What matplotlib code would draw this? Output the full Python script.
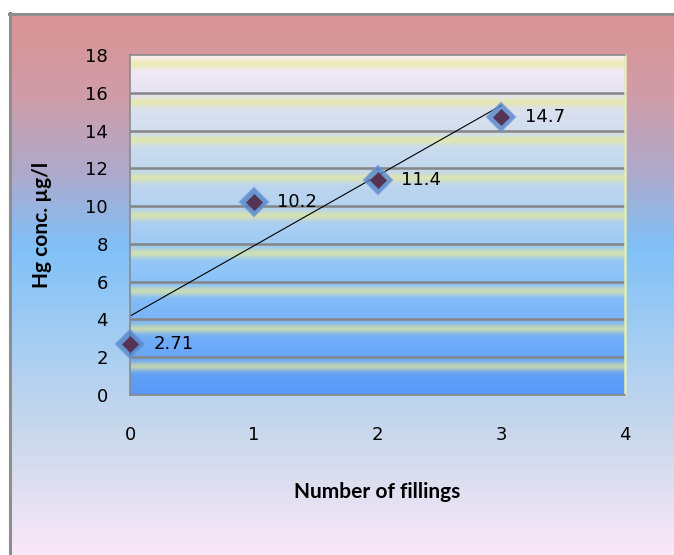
import numpy as np
import matplotlib
matplotlib.use("Agg")
import matplotlib.pyplot as plt
from matplotlib.lines import Line2D

# number of amalgam fillings vs. mercury concentration
fillings = [0, 1, 2, 3]
hg_conc = [2.71, 10.2, 11.4, 14.7]
point_labels = ["2.71", "10.2", "11.4", "14.7"]
x_ticks = [0, 1, 2, 3, 4]
y_ticks = [0, 2, 4, 6, 8, 10, 12, 14, 16, 18]

W, H = 674, 555
fig = plt.figure(figsize=(W / 100, H / 100), dpi=100)


def vgrad(stops, n=400):
    # stops: list of (pos 0=top..1=bottom, (r, g, b))
    pos = np.array([s[0] for s in stops])
    cols = np.array([s[1] for s in stops], dtype=float) / 255
    t = np.linspace(0, 1, n)
    img = np.stack([np.interp(t, pos, cols[:, c]) for c in range(3)], axis=1)
    return img[:, None, :]


# chart area background
bg = fig.add_axes([10 / W, 0, (W - 10) / W, (H - 13) / H], zorder=0)
bg.imshow(vgrad([(0.0, (218, 148, 148)), (0.15, (208, 156, 168)),
                 (0.3, (172, 170, 206)), (0.43, (128, 192, 248)),
                 (0.62, (168, 206, 242)), (0.78, (202, 216, 236)),
                 (1.0, (250, 232, 248))]),
          aspect="auto", extent=[0, 1, 0, 1])
bg.set_axis_off()
fig.add_artist(Line2D([10 / W, 10 / W], [0, 1 - 13 / H], color="#8e8e8e", lw=2.2))
fig.add_artist(Line2D([9 / W, 1], [1 - 13.5 / H, 1 - 13.5 / H], color="#8e8e8e", lw=2.2))

# plot area
ax = fig.add_axes([130 / W, 1 - 395 / H, 495 / W, 340 / H], zorder=1)
ax.set_xlim(0, 4)
ax.set_ylim(0, 18)

base = vgrad([(0.0, (250, 238, 242)), (0.08, (234, 228, 244)),
              (0.22, (208, 222, 238)), (0.45, (180, 210, 240)),
              (0.65, (140, 196, 248)), (1.0, (88, 152, 248))], n=720)
yv = np.linspace(18, 0, base.shape[0])
band = np.zeros_like(yv)
for yc in list(np.arange(1.5, 16, 2)) + [17.55]:
    band = np.maximum(band, np.exp(-0.5 * ((yv - yc) / 0.17) ** 2))
band = 0.68 * band[:, None, None]
yellow = np.array([232, 234, 150]) / 255
img = base * (1 - band) + yellow * band
ax.imshow(img, aspect="auto", extent=[0, 4, 0, 18], zorder=0)

for y in y_ticks[1:-1]:
    ax.axhline(y, color="#858585", lw=1.8, zorder=1)

# linear trendline
k, b = np.polyfit(fillings, hg_conc, 1)
xt = np.array([fillings[0], fillings[-1]])
ax.plot(xt, k * xt + b, color="black", lw=0.8, zorder=2)

# markers with soft blue rim
ax.plot(fillings, hg_conc, ls="none", marker="D", ms=14, mfc="#4f7fc6",
        mec="#6a96d4", mew=1.5, alpha=0.75, zorder=3, clip_on=False)
ax.plot(fillings, hg_conc, ls="none", marker="D", ms=8.5, mfc="#553355",
        mec="#553355", mew=0.5, zorder=4, clip_on=False)

for x, y, s in zip(fillings, hg_conc, point_labels):
    ax.annotate(s, (x, y), xytext=(17, 0), textcoords="offset points",
                ha="left", va="center", fontsize=13, family="DejaVu Sans",
                zorder=5)

ax.set_xticks(x_ticks)
ax.set_yticks(y_ticks)
ax.tick_params(length=0, labelsize=13)
ax.tick_params(axis="y", pad=16)
ax.tick_params(axis="x", pad=22)
for name in ("left", "bottom", "top"):
    ax.spines[name].set_color("#8a8a8a")
    ax.spines[name].set_linewidth(1.2)
ax.spines["right"].set_color("#e4ecb4")
ax.spines["right"].set_linewidth(1.8)

ax.set_xlabel("Number of fillings", fontsize=15, fontweight="bold", family="Lato")
ax.set_ylabel("Hg conc. µg/l", fontsize=15, fontweight="bold", family="Lato")
ax.xaxis.set_label_coords(0.5, -0.256)
ax.yaxis.set_label_coords(-0.158, 0.5)

fig.savefig("out.png", dpi=100)
